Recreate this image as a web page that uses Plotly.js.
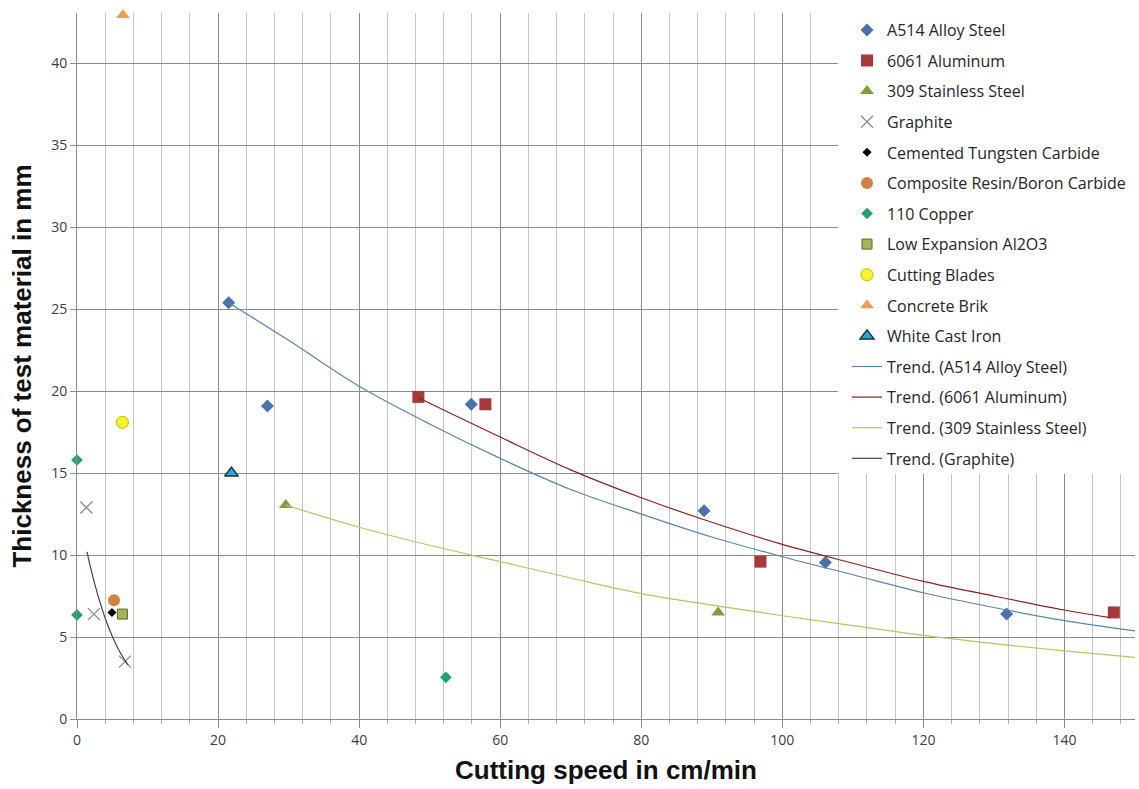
<!DOCTYPE html>
<html>
<head>
<meta charset="utf-8">
<script src="https://cdn.plot.ly/plotly-3.0.1.min.js"></script>
<style>
  html, body { margin: 0; padding: 0; background: #fff; }
  #chart { width: 1139px; height: 789px; }
</style>
</head>
<body>
<div id="chart"></div>
<script>
// Measured cutting speed (cm/min) and material thickness (mm) per material
const a514Speed = [21.5, 27.0, 55.9, 88.9, 106.1, 131.8];
const a514Thick = [25.4, 19.1, 19.2, 12.7, 9.55, 6.4];
const al6061Speed = [48.4, 57.9, 96.9, 147.0];
const al6061Thick = [19.65, 19.2, 9.6, 6.5];
const ss309Speed = [29.6, 90.9];
const ss309Thick = [13.05, 6.5];
const graphiteSpeed = [1.33, 2.4, 6.8];
const graphiteThick = [12.9, 6.4, 3.5];
const tungstenSpeed = [4.96];
const tungstenThick = [6.5];
const compositeSpeed = [5.25];
const compositeThick = [7.25];
const copperSpeed = [0, 0, 52.3];
const copperThick = [15.8, 6.35, 2.54];
const lowExpSpeed = [6.44];
const lowExpThick = [6.4];
const bladesSpeed = [6.44];
const bladesThick = [18.1];
const concreteSpeed = [6.5];
const concreteThick = [42.95];
const whiteIronSpeed = [21.9];
const whiteIronThick = [15.0];

// Exponential trend curves, sampled along each fitted line
const trendA514Speed = [21.5, 30, 40, 50, 60, 70, 80, 90, 100, 110, 120, 130, 140, 150];
const trendA514Thick = [25.4, 23.1, 20.3, 18.0, 15.9, 14.0, 12.5, 11.1, 9.9, 8.8, 7.7, 6.8, 6.0, 5.37];
const trend6061Speed = [48.4, 60, 70, 80, 90, 100, 110, 120, 130, 140, 146.5];
const trend6061Thick = [19.6, 17.2, 15.2, 13.5, 12.0, 10.65, 9.5, 8.4, 7.5, 6.65, 6.18];
const trend309Speed = [29.6, 40, 50, 60, 70, 80, 90, 100, 110, 120, 130, 140, 150];
const trend309Thick = [13.05, 11.7, 10.6, 9.6, 8.6, 7.65, 6.95, 6.3, 5.7, 5.1, 4.6, 4.15, 3.76];
const trendGraphiteSpeed = [1.42, 2, 3, 4, 5, 6, 7.24];
const trendGraphiteThick = [10.2, 9.1, 7.5, 6.15, 5.05, 4.15, 3.29];

const legendFont = { family: 'Open Sans, sans-serif', size: 16, color: '#262626' };

function pts(name, x, y, marker) {
  return { type: 'scatter', mode: 'markers', name: name, legendgroup: name,
           x: x, y: y, marker: marker, cliponaxis: false };
}
function trend(name, x, y, color) {
  return { type: 'scatter', mode: 'lines', name: name, legendgroup: name,
           x: x, y: y, line: { color: color, width: 1.2, shape: 'spline' },
           hoverinfo: 'skip' };
}

const data = [
  pts('A514 Alloy Steel', a514Speed, a514Thick,
      { symbol: 'diamond', size: 10, color: '#4A72A8' }),
  pts('6061 Aluminum', al6061Speed, al6061Thick,
      { symbol: 'square', size: 12, color: '#A8383A' }),
  pts('309 Stainless Steel', ss309Speed, ss309Thick,
      { symbol: 'triangle-up', size: 12, color: '#7E9F3E' }),
  pts('Graphite', graphiteSpeed, graphiteThick,
      { symbol: 'x-thin', size: 12, color: '#8F89A8', line: { color: '#8F89A8', width: 1.3 } }),
  pts('Cemented Tungsten Carbide', tungstenSpeed, tungstenThick,
      { symbol: 'diamond', size: 7, color: '#000000' }),
  pts('Composite Resin/Boron Carbide', compositeSpeed, compositeThick,
      { symbol: 'circle', size: 12, color: '#D3813F' }),
  pts('110 Copper', copperSpeed, copperThick,
      { symbol: 'diamond', size: 9, color: '#23A07A' }),
  pts('Low Expansion Al2O3', lowExpSpeed, lowExpThick,
      { symbol: 'square', size: 10, color: '#A5B35A', line: { color: '#5C6B2A', width: 1 } }),
  pts('Cutting Blades', bladesSpeed, bladesThick,
      { symbol: 'circle', size: 12, color: '#F5F52A', line: { color: '#C9B800', width: 1 } }),
  pts('Concrete Brik', concreteSpeed, concreteThick,
      { symbol: 'triangle-up', size: 12, color: '#F59A55' }),
  pts('White Cast Iron', whiteIronSpeed, whiteIronThick,
      { symbol: 'triangle-up', size: 12, color: '#2CA8D8', line: { color: '#1A2E45', width: 1.5 } }),
  trend('Trend. (A514 Alloy Steel)', trendA514Speed, trendA514Thick, '#5A86AE'),
  trend('Trend. (6061 Aluminum)', trend6061Speed, trend6061Thick, '#8E1F1F'),
  trend('Trend. (309 Stainless Steel)', trend309Speed, trend309Thick, '#A9CC63'),
  trend('Trend. (Graphite)', trendGraphiteSpeed, trendGraphiteThick, '#4A3D6E')
];

const tickFont = { family: 'Open Sans, sans-serif', size: 14, color: '#404040' };
const titleFont = { family: 'Liberation Sans, Arial, sans-serif',
                    size: 26, color: '#111111', weight: 'bold' };

const layout = {
  width: 1139,
  height: 789,
  margin: { l: 77, r: 4, t: 13, b: 70 },
  paper_bgcolor: '#ffffff',
  plot_bgcolor: '#ffffff',
  showlegend: true,
  // white panel behind the legend, hiding the grid in that corner
  shapes: [{
    type: 'rect', xref: 'paper', yref: 'paper', layer: 'above',
    x0: 0.7193, x1: 1.01, y0: 0.347, y1: 1.02,
    fillcolor: '#ffffff', line: { width: 0 }
  }],
  legend: {
    x: 0.7278, xanchor: 'left',
    y: 1.0, yanchor: 'top',
    bgcolor: 'rgba(0,0,0,0)',
    borderwidth: 0,
    font: legendFont,
    tracegroupgap: 6.8,
    itemwidth: 30
  },
  xaxis: {
    range: [0, 150],
    tick0: 0, dtick: 20,
    showgrid: true, gridcolor: '#8c8c8c', gridwidth: 1,
    ticks: 'outside', ticklen: 8, tickcolor: '#8c8c8c',
    minor: { tick0: 0, dtick: 4, showgrid: true, gridcolor: '#c6c6c6', gridwidth: 1,
             ticks: 'outside', ticklen: 4, tickcolor: '#b0b0b0' },
    showline: true, linecolor: '#8c8c8c', linewidth: 1,
    zeroline: false,
    tickfont: tickFont,
    title: { text: 'Cutting speed in cm/min', font: titleFont, standoff: 13 }
  },
  yaxis: {
    range: [0, 43.07],
    tick0: 0, dtick: 5,
    showgrid: true, gridcolor: '#8c8c8c', gridwidth: 1,
    ticks: 'outside', ticklen: 6, tickcolor: '#8c8c8c',
    showline: true, linecolor: '#8c8c8c', linewidth: 1,
    zeroline: false,
    tickfont: tickFont,
    title: { text: 'Thickness of test material in mm', font: titleFont, standoff: 12 }
  }
};

Plotly.newPlot('chart', data, layout, { displayModeBar: false, staticPlot: true });
</script>
</body>
</html>
